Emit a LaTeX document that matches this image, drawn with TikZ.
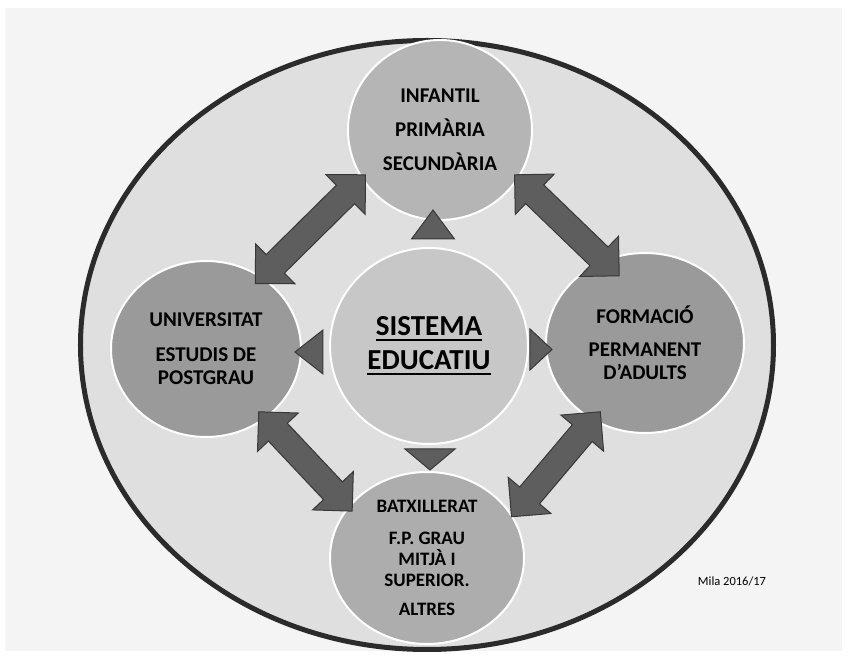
\documentclass[tikz,border=0pt]{standalone}
\usepackage{fontspec}
\setmainfont{Carlito}
\usetikzlibrary{shapes.geometric,calc}

\definecolor{pagegray}{HTML}{F4F4F4}
\definecolor{ringfill}{HTML}{DFDFDF}
\definecolor{ringline}{HTML}{2B2B2B}
\definecolor{topfill}{HTML}{B5B5B5}
\definecolor{corefill}{HTML}{C7C7C7}
\definecolor{sidefill}{HTML}{9A9A9A}
\definecolor{lowfill}{HTML}{ADADAD}
\definecolor{arrowfill}{HTML}{5E5E5E}
\definecolor{arrowline}{HTML}{383838}

\newcommand{\ulword}[1]{\vtop{\hbox{#1}\kern3pt\hrule height 2pt}}

\begin{document}
\begin{tikzpicture}[node distance={216pt}, line join=miter]
                \tikzstyle{ring} = [ellipse, draw=ringline, line width=5pt, fill=ringfill, inner sep=0pt, minimum width=693pt, minimum height=609pt]
                \tikzstyle{lvl} = [ellipse, draw=white, line width=2pt, inner sep=0pt, align=center, font=\bfseries\fontsize{21}{23}\selectfont]
                \tikzstyle{tri} = [fill=arrowfill, draw=arrowline, line width=1pt]
                \tikzstyle{biarrow} = [fill=arrowfill, draw=arrowline, line width=1pt,
                    to path={let \p1=(\tikztostart), \p2=(\tikztotarget),
                        \n1={atan2(\y2-\y1,\x2-\x1)}, \n2={veclen(\x2-\x1,\y2-\y1)} in
                        (\p1) -- ++(\n1+45:39.6pt) -- ++(\n1-90:15pt) -- ++(\n1:\n2-56pt)
                        -- ++(\n1+90:15pt) -- ++(\n1-45:39.6pt) -- ++(\n1-135:39.6pt)
                        -- ++(\n1+90:15pt) -- ++(\n1+180:\n2-56pt) -- ++(\n1-90:15pt) -- cycle}]

                % Page and outer ring
                \useasboundingbox[fill=white] (-429pt,-314pt) rectangle (420pt,346pt);
                \fill[pagegray] (-424pt,-305pt) rectangle (413pt,338pt);
                \node[ring] (ring) at (-2pt,1pt) {};

                % Centre node
                \node[lvl, fill=corefill, minimum width=198pt, minimum height=196pt,
                      font=\bfseries\fontsize{29}{34}\selectfont] (sys) at (0,0)
                      {\ulword{SISTEMA}\\\ulword{EDUCATIU}};

                % Stage nodes round the centre
                \node[lvl, fill=topfill, minimum width=184pt, minimum height=180pt] (inf) [above of=sys, xshift=11pt]
                      {INFANTIL\\[11pt]PRIMÀRIA\\[11pt]SECUNDÀRIA};
                \node[lvl, fill=sidefill, minimum width=190pt, minimum height=176pt] (uni) [left of=sys, xshift=-7pt, yshift=-3pt]
                      {UNIVERSITAT\\[12pt]ESTUDIS DE\\POSTGRAU};
                \node[lvl, fill=sidefill, minimum width=198pt, minimum height=180pt] (fpa) [right of=sys, yshift=3pt]
                      {FORMACIÓ\\[10pt]PERMANENT\\D’ADULTS};
                \node[lvl, fill=lowfill, minimum width=194pt, minimum height=172pt,
                      font=\bfseries\fontsize{19}{21}\selectfont] (btx) [below of=sys, xshift=-2pt, yshift=4pt]
                      {BATXILLERAT\\[11pt]F.P. GRAU\\MITJÀ I\\SUPERIOR.\\[8pt]ALTRES};

                % Small pointers out of the centre
                \draw[tri] ($(sys)+(-17.5pt,107pt)$) -- ++(43pt,0) -- ++(-21.5pt,29pt) -- cycle;
                \draw[tri] ($(sys)+(-24pt,-103pt)$) -- ++(50pt,0) -- ++(-25pt,-21pt) -- cycle;
                \draw[tri] ($(sys)+(-106pt,16pt)$) -- ++(0,-44pt) -- ++(-28pt,22pt) -- cycle;
                \draw[tri] ($(sys)+(101pt,17pt)$) -- ++(0,-41pt) -- ++(22pt,20.5pt) -- cycle;

                % Double arrows between the stages
                \draw[biarrow] ($(inf)+(211:87pt)$) to ($(uni)+(53:82pt)$);
                \draw[biarrow] ($(inf)+(329:87pt)$) to ($(fpa)+(111:72pt)$);
                \draw[biarrow] ($(uni)+(310:82pt)$) to ($(btx)+(148:88pt)$);
                \draw[biarrow] ($(fpa)+(237:82pt)$) to ($(btx)+(26:94pt)$);

                \node[font=\fontsize{12.5}{15}\selectfont] (mila) at (303pt,-235pt) {Mila 2016/17};
            \end{tikzpicture}
\end{document}
